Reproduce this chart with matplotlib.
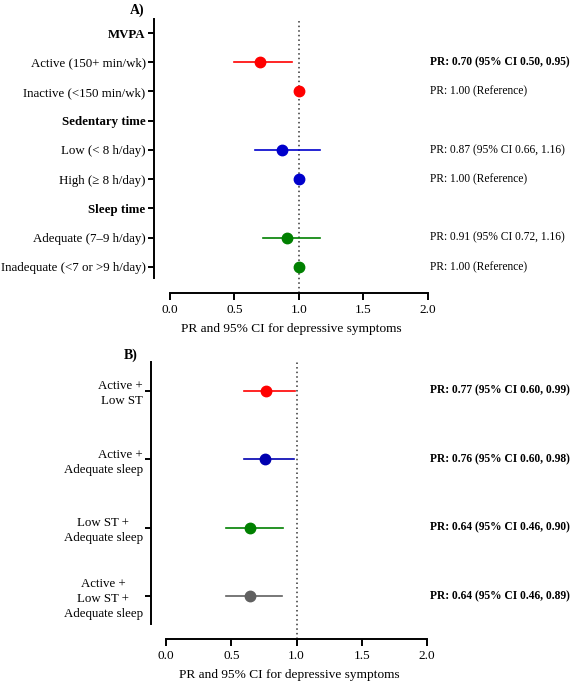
import matplotlib.pyplot as plt

plt.rcParams['font.family'] = ['Liberation Serif', 'DejaVu Serif']
plt.rcParams['font.size'] = 9.3

# panel A: individual behaviours (None = group header)
rows_a = ['MVPA', 'Active (150+ min/wk)', 'Inactive (<150 min/wk)',
          'Sedentary time', 'Low (< 8 h/day)', 'High (\u2265 8 h/day)',
          'Sleep time', 'Adequate (7\u20139 h/day)', 'Inadequate (<7 or >9 h/day)']
pr_a = [None, 0.70, 1.00, None, 0.87, 1.00, None, 0.91, 1.00]
lo_a = [None, 0.50, None, None, 0.66, None, None, 0.72, None]
hi_a = [None, 0.95, None, None, 1.16, None, None, 1.16, None]
txt_a = [None, 'PR: 0.70 (95% CI 0.50, 0.95)', 'PR: 1.00 (Reference)',
         None, 'PR: 0.87 (95% CI 0.66, 1.16)', 'PR: 1.00 (Reference)',
         None, 'PR: 0.91 (95% CI 0.72, 1.16)', 'PR: 1.00 (Reference)']
sig_a = [False, True, False, False, False, False, False, False, False]
col_a = [None, 'red', 'red', None, '#0000cc', '#0000cc', None, 'green', 'green']

# panel B: combinations
rows_b = ['Active +\nLow ST', 'Active +\nAdequate sleep',
          'Low ST +\nAdequate sleep', 'Active +\nLow ST +\nAdequate sleep']
pr_b = [0.77, 0.76, 0.64, 0.64]
lo_b = [0.60, 0.60, 0.46, 0.46]
hi_b = [0.99, 0.98, 0.90, 0.89]
txt_b = ['PR: 0.77 (95% CI 0.60, 0.99)', 'PR: 0.76 (95% CI 0.60, 0.98)',
         'PR: 0.64 (95% CI 0.46, 0.90)', 'PR: 0.64 (95% CI 0.46, 0.89)']
col_b = ['red', '#0000b0', 'green', '#606060']

xlabel = 'PR and 95% CI for depressive symptoms'
xticks = [0.0, 0.5, 1.0, 1.5, 2.0]

fig = plt.figure(figsize=(5.79, 6.85), dpi=100)
axA = fig.add_axes([0.266, 0.5723, 0.473, 0.40])
axB = fig.add_axes([0.2608, 0.0672, 0.4767, 0.4043])


def style(ax, ybottom, ytop, spine_lo, xleft):
    for s in ['top', 'right']:
        ax.spines[s].set_visible(False)
    ax.spines['left'].set_linewidth(1.4)
    ax.spines['bottom'].set_linewidth(1.4)
    ax.set_ylim(ybottom, ytop)
    ax.spines['left'].set_bounds(ytop, spine_lo)
    ax.spines['bottom'].set_bounds(0, 2)
    ax.set_xlim(xleft, 2.0)
    ax.set_xticks(xticks)
    ax.set_xticklabels(['%.1f' % t for t in xticks])
    ax.tick_params(axis='both', width=1.4, length=4, direction='out')
    ax.tick_params(axis='y', pad=2)
    ax.tick_params(axis='x', length=5, pad=3, labelsize=9.5)
    ax.axvline(1.0, color='#333333', ls=(0, (1, 2)), lw=1.1, zorder=1)
    ax.set_xlabel(xlabel, labelpad=5, fontsize=9.6)


# ---- A ----
ya = list(range(len(rows_a)))
for i, r in enumerate(rows_a):
    if pr_a[i] is None:
        continue
    if lo_a[i] is not None:
        axA.plot([lo_a[i], hi_a[i]], [i, i], color=col_a[i], lw=1.2, zorder=2)
    axA.plot(pr_a[i], i, 'o', color=col_a[i], ms=7.5, zorder=3)
    axA.text(2.02, i, txt_a[i], va='center', ha='left', fontsize=8.3,
             fontweight='bold' if sig_a[i] else 'normal', clip_on=False)
axA.set_yticks(ya)
axA.set_yticklabels(rows_a)
for i, lab in enumerate(axA.get_yticklabels()):
    if pr_a[i] is None:
        lab.set_fontweight('bold')
style(axA, 8.89, -0.48, 8.38, -0.124)
axA.set_title('A)', fontweight='bold', fontsize=10, loc='left', x=-0.09, y=1.0, pad=4)

# ---- B ----
yb = list(range(len(rows_b)))
for i in yb:
    axB.plot([lo_b[i], hi_b[i]], [i, i], color=col_b[i], lw=1.2, zorder=2)
    axB.plot(pr_b[i], i, 'o', color=col_b[i], ms=7.5, zorder=3)
    axB.text(2.02, i, txt_b[i], va='center', ha='left', fontweight='bold',
             fontsize=8.3, clip_on=False)
axB.set_yticks(yb)
axB.set_yticklabels(rows_b, linespacing=1.33)
# first two labels are right-aligned, last two centred in the original
for lab, al in zip(axB.get_yticklabels(), ['right', 'right', 'center', 'center']):
    lab.set_multialignment(al)
style(axB, 3.63, -0.42, 3.41, -0.115)
axB.set_title('B)', fontweight='bold', fontsize=10, loc='left', x=-0.1, y=1.0, pad=2.5)

fig.savefig('out.png', dpi=100)
